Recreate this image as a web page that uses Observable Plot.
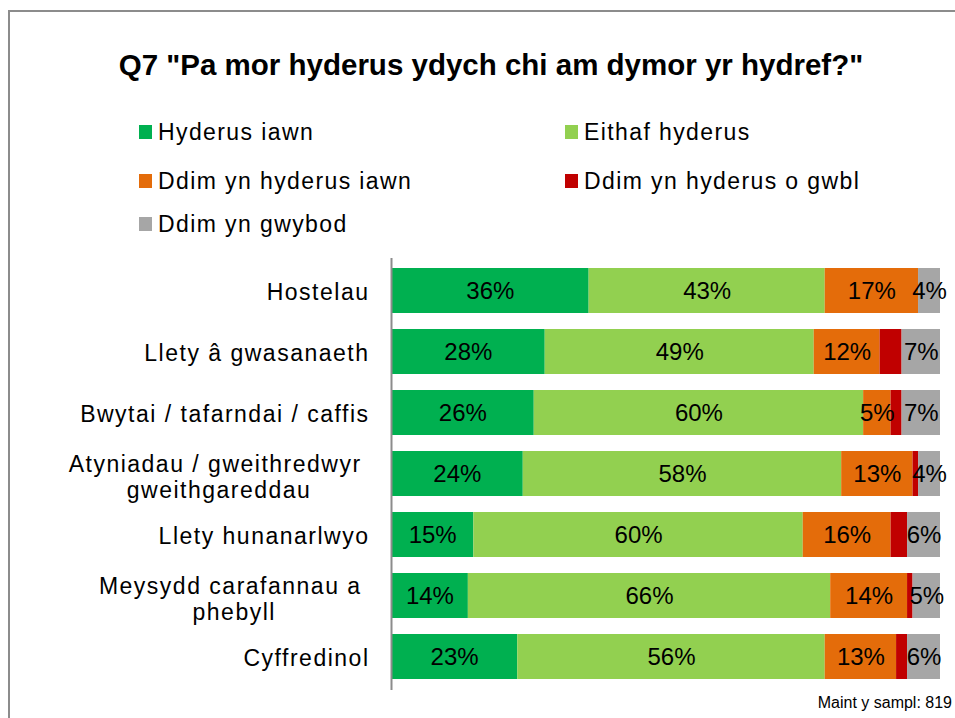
<!DOCTYPE html>
<html>
<head>
<meta charset="utf-8">
<script src="https://cdn.jsdelivr.net/npm/d3@7"></script>
<script src="https://cdn.jsdelivr.net/npm/@observablehq/plot@0.6"></script>
<style>
  html, body { margin: 0; padding: 0; background: #fff; }
  body { font-family: "Liberation Sans", Arial, sans-serif; color: #000; }
  #wrap { position: relative; width: 955px; height: 718px; overflow: hidden; }
  #frame { position: absolute; left: 8px; top: 10px; width: 960px; height: 720px;
           border-top: 2px solid #8c8c8c; border-left: 2px solid #8c8c8c; box-sizing: border-box; }
  #title { position: absolute; left: 0; width: 982px; top: 50px; text-align: center;
           font-size: 29.5px; line-height: 1; font-weight: bold; white-space: nowrap; }
  .lg { position: absolute; font-size: 23px; white-space: nowrap; line-height: 1; letter-spacing: 1.4px; }
  .lg span.sw { display: inline-block; width: 13px; height: 14px; margin-right: 6px; vertical-align: 1px; }
  #chart { position: absolute; left: 0; top: 250px; }
  #chart g[aria-label="y-axis tick label"], #chart .ylab { letter-spacing: 1.5px; }
  #caption { position: absolute; right: 3px; top: 695px; font-size: 16px; line-height: 1; white-space: nowrap; }
</style>
</head>
<body>
<div id="wrap">
  <div id="frame"></div>
  <div id="title"></div>
  <div id="legend"></div>
  <div id="chart"></div>
  <div id="caption"></div>
</div>
<script>
const titleText = 'Q7 "Pa mor hyderus ydych chi am dymor yr hydref?"';
const captionText = "Maint y sampl: 819";

const categories = [
  "Hostelau",
  "Llety â gwasanaeth",
  "Bwytai / tafarndai / caffis",
  "Atyniadau / gweithredwyr gweithgareddau",
  "Llety hunanarlwyo",
  "Meysydd carafannau a phebyll",
  "Cyffredinol"
];
const tickLabels = [
  "Hostelau",
  "Llety â gwasanaeth",
  "Bwytai / tafarndai / caffis",
  "Atyniadau / gweithredwyr \ngweithgareddau",
  "Llety hunanarlwyo",
  "Meysydd carafannau a \nphebyll",
  "Cyffredinol"
];

const seriesNames = [
  "Hyderus iawn",
  "Eithaf hyderus",
  "Ddim yn hyderus iawn",
  "Ddim yn hyderus o gwbl",
  "Ddim yn gwybod"
];
const seriesColors = ["#00b050", "#92d050", "#e46c0a", "#c00000", "#a6a6a6"];

const hyderusIawn     = [36, 28, 26, 24, 15, 14, 23];
const eithafHyderus   = [43, 49, 60, 58, 60, 66, 56];
const ddimHyderusIawn = [17, 12,  5, 13, 16, 14, 13];
const ddimOGwbl       = [ 0,  4,  2,  1,  3,  1,  2];
const ddimGwybod      = [ 4,  7,  7,  4,  6,  5,  6];
const seriesValues = [hyderusIawn, eithafHyderus, ddimHyderusIawn, ddimOGwbl, ddimGwybod];
const labelledSeries = [true, true, true, false, true];

const data = [];
categories.forEach((c, i) => {
  seriesNames.forEach((s, j) => {
    data.push({category: c, series: s, value: seriesValues[j][i], labelled: labelledSeries[j]});
  });
});

document.getElementById("title").textContent = titleText;
document.getElementById("caption").textContent = captionText;

// legend (HTML, above the SVG)
const legendPos = [
  {left: 139, top: 121}, {left: 565, top: 121},
  {left: 139, top: 170}, {left: 565, top: 170},
  {left: 139, top: 213}
];
const legend = document.getElementById("legend");
seriesNames.forEach((s, j) => {
  const d = document.createElement("div");
  d.className = "lg";
  d.style.left = legendPos[j].left + "px";
  d.style.top = legendPos[j].top + "px";
  const sw = document.createElement("span");
  sw.className = "sw";
  sw.style.background = seriesColors[j];
  d.appendChild(sw);
  d.appendChild(document.createTextNode(s));
  legend.appendChild(d);
});

// label measurement (for centred multi-line category labels)
const labelFont = 23, labelSpacing = 1.5, labelPad = 22;
const ctx = document.createElement("canvas").getContext("2d");
ctx.font = labelFont + "px 'Liberation Sans'";
const lineWidth = s => ctx.measureText(s).width + labelSpacing * s.length;

const singleCats = categories.filter((c, i) => !tickLabels[i].includes("\n"));
const multiCats = categories.filter((c, i) => tickLabels[i].includes("\n"));

const multiMarks = multiCats.map(c => {
  const lab = tickLabels[categories.indexOf(c)];
  const w = d3.max(lab.split("\n"), lineWidth);
  return Plot.text([c], {
    y: d => d,
    x: () => 0,
    text: () => lab,
    textAnchor: "middle",
    dx: -(labelPad + w / 2),
    dy: 3,
    fontSize: labelFont,
    lineHeight: 1.13,
    fill: "#000",
    className: "ylab"
  });
});

const stackOpts = {x: "value", y: "category", z: "series", order: seriesNames};

const chart = Plot.plot({
  width: 955,
  height: 468,
  marginLeft: 391,
  marginRight: 15,
  marginTop: 8,
  marginBottom: 28,
  style: {fontFamily: "Liberation Sans, Arial, sans-serif", background: "transparent", color: "#000"},
  x: {domain: [0, 100], axis: null},
  y: {domain: categories, paddingInner: 0.26, paddingOuter: 0.13, label: null, axis: null},
  color: {domain: seriesNames, range: seriesColors},
  marks: [
    Plot.barX(data, Plot.stackX({...stackOpts, fill: "series"})),
    Plot.text(data, Plot.stackX({
      ...stackOpts,
      text: d => d.labelled ? d.value + "%" : null,
      fontSize: 24,
      fill: "#000"
    })),
    Plot.ruleX([0], {stroke: "#8c8c8c", strokeWidth: 2}),
    Plot.axisY({
      ticks: singleCats,
      tickSize: 0,
      tickPadding: labelPad,
      fontSize: labelFont,
      dy: 2,
      fill: "#000",
      tickFormat: d => tickLabels[categories.indexOf(d)],
      label: null
    }),
    ...multiMarks
  ]
});
document.getElementById("chart").appendChild(chart);
</script>
</body>
</html>
